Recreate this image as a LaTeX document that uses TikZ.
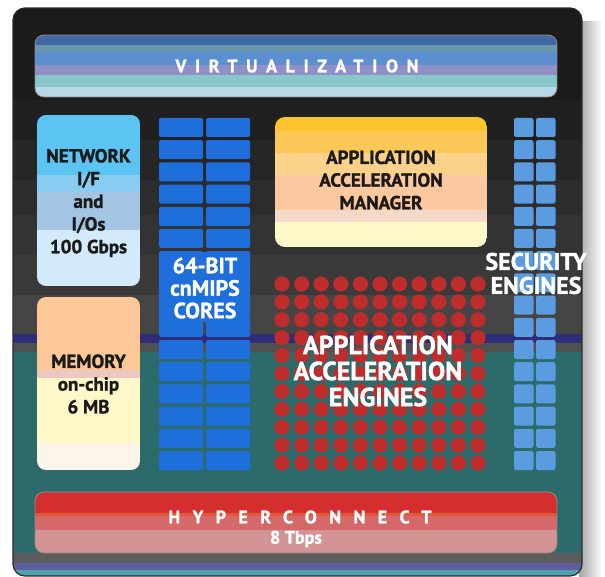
\documentclass[tikz,border=0pt]{standalone}
\usepackage{fontspec}
\setmainfont{PT Sans}[BoldFeatures={FakeBold=1.3}]
\definecolor{bgA}{HTML}{1B1B1B}
\definecolor{bgB}{HTML}{202020}
\definecolor{bgC}{HTML}{262626}
\definecolor{bgD}{HTML}{2C2C2C}
\definecolor{bgE}{HTML}{333333}
\definecolor{bgF}{HTML}{3A3A3A}
\definecolor{bgG}{HTML}{454545}
\definecolor{bgNavy}{HTML}{2E2E78}
\definecolor{bgH}{HTML}{505050}
\definecolor{bgTeal}{HTML}{2D6B6B}
\definecolor{bgI}{HTML}{5C5C5C}
\definecolor{bgJ}{HTML}{5D5FA0}
\definecolor{bgK}{HTML}{4FA0B0}
\definecolor{vA}{HTML}{3F68A8}
\definecolor{vB}{HTML}{6A98A8}
\definecolor{vC}{HTML}{5B8FD0}
\definecolor{vD}{HTML}{9090C8}
\definecolor{vE}{HTML}{88C8C8}
\definecolor{vF}{HTML}{B8D8E8}
\definecolor{hA}{HTML}{D42E2E}
\definecolor{hB}{HTML}{E05A3A}
\definecolor{hC}{HTML}{D56868}
\definecolor{hD}{HTML}{D49494}
\definecolor{nA}{HTML}{5CC4F2}
\definecolor{nB}{HTML}{88CCF2}
\definecolor{nC}{HTML}{A4C4E4}
\definecolor{nD}{HTML}{D2EAFA}
\definecolor{mA}{HTML}{FCC898}
\definecolor{mB}{HTML}{ECC8C0}
\definecolor{mC}{HTML}{FFF8C8}
\definecolor{mD}{HTML}{FDF5EA}
\definecolor{gA}{HTML}{FCC42C}
\definecolor{gB}{HTML}{FCC858}
\definecolor{gC}{HTML}{FCD28A}
\definecolor{gD}{HTML}{FCC8A0}
\definecolor{gE}{HTML}{F4D8C8}
\definecolor{gF}{HTML}{FFF8C8}
\definecolor{corecol}{HTML}{1E6FDC}
\definecolor{seccol}{HTML}{5B9BE0}
\definecolor{dotred}{HTML}{BE2C2C}
\definecolor{textdark}{HTML}{1A1A1A}
\definecolor{chipedge}{HTML}{2A2A2A}
\begin{document}
\begin{tikzpicture}[x=1pt,y=-1pt,
  darklbl/.style={font=\bfseries\fontsize{19}{22.7}\selectfont, text=textdark, align=center, inner sep=0pt},
  whitelbl/.style={text=white, align=center, inner sep=0pt},
  barlbl/.style={text=white, inner sep=0pt, font=\bfseries\fontsize{18}{20}\selectfont},
  midfont/.style={font=\bfseries\fontsize{22}{22.5}\selectfont},
  secfont/.style={font=\bfseries\fontsize{24}{24}\selectfont},
  largefont/.style={font=\bfseries\fontsize{26}{26}\selectfont}]
\useasboundingbox (0,0) rectangle (605,577);
\fill[white] (0,0) rectangle (605,577);
% drop shadow on the right
\shade[left color=black!35, right color=white] (579,22) rectangle (602,577);
% chip background
\begin{scope}
\clip[rounded corners=12] (13,8) rectangle (582,576);
\fill[bgA] (13,8) rectangle (582,100);
\fill[bgB] (13,100) rectangle (582,140);
\fill[bgC] (13,140) rectangle (582,180);
\fill[bgD] (13,180) rectangle (582,215);
\fill[bgE] (13,215) rectangle (582,255);
\fill[bgF] (13,255) rectangle (582,295);
\fill[bgG] (13,295) rectangle (582,334);
\fill[bgNavy] (13,334) rectangle (582,343);
\fill[bgH] (13,343) rectangle (582,352);
\fill[bgTeal] (13,352) rectangle (582,553);
\fill[bgI] (13,553) rectangle (582,563);
\fill[bgJ] (13,563) rectangle (582,570);
\fill[bgK] (13,570) rectangle (582,576);
\end{scope}
\draw[chipedge, line width=1.2pt, rounded corners=12] (13,8) rectangle (582,576);
\node[inner sep=0pt, minimum width=569pt, minimum height=568pt] (chip) at (297.5,292) {};

% virtualization bar
\begin{scope}
\clip[rounded corners=9] (35,35) rectangle (557,97);
\fill[vA] (35,35) rectangle (557,45);
\fill[vB] (35,45) rectangle (557,51);
\fill[vC] (35,51) rectangle (557,65);
\fill[vD] (35,65) rectangle (557,75);
\fill[vE] (35,75) rectangle (557,87);
\fill[vF] (35,87) rectangle (557,97);
\end{scope}
\draw[black!45, line width=0.8pt, rounded corners=9] (35,35) rectangle (557,97);
\node[barlbl] (virt) at (297,66) {\addfontfeature{LetterSpace=48}VIRTUALIZATION};

% hyperconnect bar
\begin{scope}
\clip[rounded corners=9] (35,492) rectangle (557,553);
\fill[hA] (35,492) rectangle (557,513);
\fill[hB] (35,513) rectangle (557,516);
\fill[hC] (35,516) rectangle (557,530);
\fill[hD] (35,530) rectangle (557,553);
\end{scope}
\draw[black!45, line width=0.8pt, rounded corners=9] (35,492) rectangle (557,553);
\node[barlbl] (hyper) at (300,517) {\addfontfeature{LetterSpace=69}HYPERCONNECT};
\node[barlbl] (tbps) at (296,539) {8 Tbps};

% network box
\begin{scope}
\clip[rounded corners=9] (37,115) rectangle (140,286);
\fill[nA] (37,115) rectangle (140,175);
\fill[nB] (37,175) rectangle (140,192);
\fill[nC] (37,192) rectangle (140,230);
\fill[nD] (37,230) rectangle (140,286);
\end{scope}
\node[darklbl] (net) at (88.5,203) {NETWORK\\I/F\\and\\I/Os\\100 Gbps};

% memory box
\begin{scope}
\clip[rounded corners=9] (37,297) rectangle (140,470);
\fill[mA] (37,297) rectangle (140,370);
\fill[mB] (37,370) rectangle (140,378);
\fill[mC] (37,378) rectangle (140,443);
\fill[mD] (37,443) rectangle (140,470);
\end{scope}
\node[darklbl] (mem) at (88.5,384) {MEMORY\\on-chip\\6 MB};

% manager box
\begin{scope}
\clip[rounded corners=10] (275,117) rectangle (487,247);
\fill[gA] (275,117) rectangle (487,131);
\fill[gB] (275,131) rectangle (487,153);
\fill[gC] (275,153) rectangle (487,175);
\fill[gD] (275,175) rectangle (487,210);
\fill[gE] (275,210) rectangle (487,222);
\fill[gF] (275,222) rectangle (487,247);
\end{scope}
\node[darklbl] (mgr) at (381,180) {APPLICATION\\ACCELERATION\\MANAGER};

% cores
\foreach \r in {0,...,15} {
  \fill[corecol, rounded corners=1.5] (159,{118+\r*22.2}) rectangle ++(44,19);
  \fill[corecol, rounded corners=1.5] (206,{118+\r*22.2}) rectangle ++(44,19);
}
\fill[corecol] (159,252) rectangle (250,322);
\node[whitelbl, midfont] (cores) at (205,288) {64-BIT\\cnMIPS\\CORES};

% security engines
\foreach \r in {0,...,15} {
  \fill[seccol, rounded corners=2] (514,{118+\r*22.2}) rectangle ++(19.5,19);
  \fill[seccol, rounded corners=2] (536,{118+\r*22.2}) rectangle ++(19.5,19);
}
\node[whitelbl, secfont] (sec) at (536,273.5) {SECURITY\\ENGINES};

% acceleration engines dots
\foreach \i in {0,...,10} {
  \foreach \j in {0,...,10} {
    \fill[dotred] ({282+\i*19.6},{284+\j*17.9}) circle (7.6);
  }
}
\node[whitelbl, largefont] (eng) at (378,371) {APPLICATION\\ACCELERATION\\ENGINES};
\end{tikzpicture}
\end{document}
